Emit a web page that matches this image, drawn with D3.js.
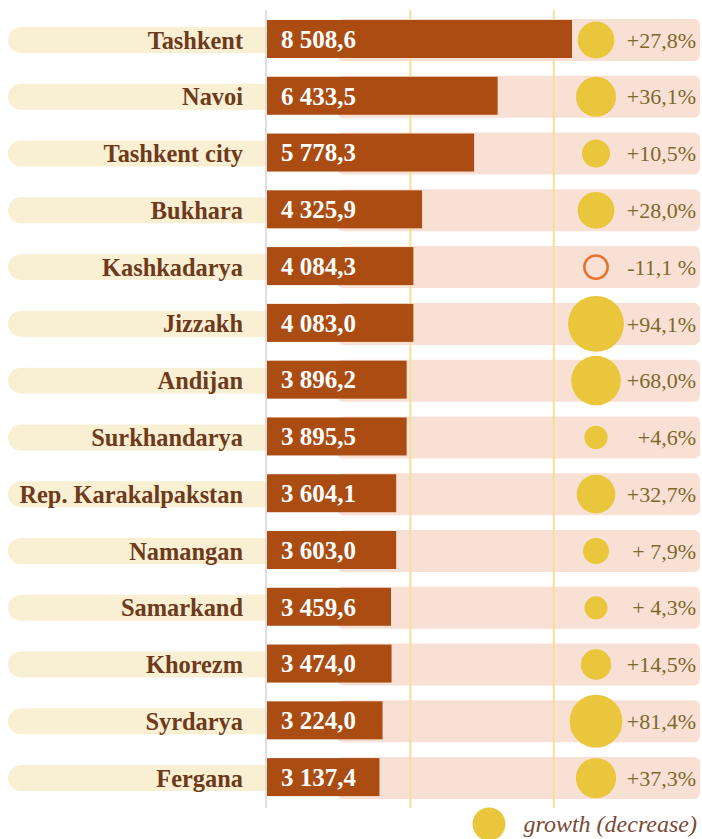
<!DOCTYPE html>
<html>
<head>
<meta charset="utf-8">
<script src="https://cdn.jsdelivr.net/npm/d3@7"></script>
<style>
  body { margin: 0; background: #fff; }
</style>
</head>
<body>
<div id="chart"></div>
<script>
const regions = ["Tashkent", "Navoi", "Tashkent city", "Bukhara", "Kashkadarya", "Jizzakh", "Andijan",
  "Surkhandarya", "Rep. Karakalpakstan", "Namangan", "Samarkand", "Khorezm", "Syrdarya", "Fergana"];
const values = [8508.6, 6433.5, 5778.3, 4325.9, 4084.3, 4083.0, 3896.2,
  3895.5, 3604.1, 3603.0, 3459.6, 3474.0, 3224.0, 3137.4];
const growth = [27.8, 36.1, 10.5, 28.0, -11.1, 94.1, 68.0, 4.6, 32.7, 7.9, 4.3, 14.5, 81.4, 37.3];
const growthLabels = ["+27,8%", "+36,1%", "+10,5%", "+28,0%", "-11,1 %", "+94,1%", "+68,0%",
  "+4,6%", "+32,7%", "+ 7,9%", "+ 4,3%", "+14,5%", "+81,4%", "+37,3%"];
const gridTicks = [4000, 8000];
const legendLabel = "growth (decrease)";

const width = 702, height = 839;
const x0 = 267;
const serif = "Liberation Serif, Times New Roman, serif";

const svg = d3.select("#chart").append("svg")
  .attr("width", width)
  .attr("height", height)
  .attr("font-family", serif);

const x = d3.scaleLinear().domain([0, 8508.6]).range([x0, 572]);
const y = d3.scaleBand().domain(regions).range([11.6, 806.5]);
const r = d3.scaleSqrt().domain([0, 100]).range([7, 28.6]);

const fmt = d3.formatLocale({decimal: ",", thousands: " ", grouping: [3], currency: ["", ""]}).format(",.1f");

const rows = regions.map((name, i) => ({name, value: values[i], growth: growth[i], label: growthLabels[i]}));
const cy = d => y(d.name) + y.bandwidth() / 2;

// cream label pills
svg.append("g").selectAll("rect").data(rows).join("rect")
  .attr("x", 8).attr("y", d => cy(d) - 13)
  .attr("width", x0 - 8 + 10).attr("height", 26)
  .attr("rx", 13)
  .attr("fill", "#f9efd3");

// pink background bars
svg.append("g").selectAll("rect").data(rows).join("rect")
  .attr("x", 337).attr("y", d => cy(d) - 21)
  .attr("width", 700 - 337).attr("height", 42)
  .attr("rx", 6)
  .attr("fill", "#f9e0d5");

// gridlines
svg.append("g").selectAll("line").data(gridTicks).join("line")
  .attr("x1", d => x(d)).attr("x2", d => x(d))
  .attr("y1", 10).attr("y2", 808)
  .attr("stroke", "#f5df98").attr("stroke-width", 2);

// axis line
svg.append("line")
  .attr("x1", x0 - 1).attr("x2", x0 - 1)
  .attr("y1", 10).attr("y2", 808)
  .attr("stroke", "#d4d4d4").attr("stroke-width", 1.5);

// value bars
svg.append("g").selectAll("rect").data(rows).join("rect")
  .attr("x", x(0)).attr("y", d => cy(d) - 20)
  .attr("width", d => x(d.value) - x(0)).attr("height", 38)
  .attr("fill", "#ab4c12");

// value labels
svg.append("g").selectAll("text").data(rows).join("text")
  .attr("x", 281).attr("y", d => cy(d) - 1)
  .attr("dy", "0.35em")
  .attr("fill", "#fff")
  .attr("font-weight", "bold")
  .attr("font-size", 25)
  .text(d => fmt(d.value));

// category labels
svg.append("g").selectAll("text").data(rows).join("text")
  .attr("x", 243).attr("y", d => cy(d))
  .attr("dy", "0.35em")
  .attr("text-anchor", "end")
  .attr("fill", "#6e3a1c")
  .attr("font-weight", "bold")
  .attr("font-size", 24.4)
  .text(d => d.name);

// growth circles
svg.append("g").selectAll("circle").data(rows).join("circle")
  .attr("cx", 596).attr("cy", d => cy(d))
  .attr("r", d => d.growth >= 0 ? r(d.growth) : r(-d.growth) - 2.5)
  .attr("fill", d => d.growth >= 0 ? "#eac63c" : "none")
  .attr("stroke", d => d.growth >= 0 ? "none" : "#e8722c")
  .attr("stroke-width", 2.5);

// growth labels
svg.append("g").selectAll("text").data(rows).join("text")
  .attr("x", 696).attr("y", d => cy(d))
  .attr("dy", "0.35em")
  .attr("text-anchor", "end")
  .attr("fill", "#7b6a2c")
  .attr("font-size", 22)
  .text(d => d.label);

// legend
svg.append("circle")
  .attr("cx", 489).attr("cy", 824).attr("r", 16.5)
  .attr("fill", "#eac63c");
svg.append("text")
  .attr("x", 697).attr("y", 832)
  .attr("text-anchor", "end")
  .attr("fill", "#7a4a33")
  .attr("font-style", "italic")
  .attr("font-size", 24)
  .text(legendLabel);
</script>
</body>
</html>
